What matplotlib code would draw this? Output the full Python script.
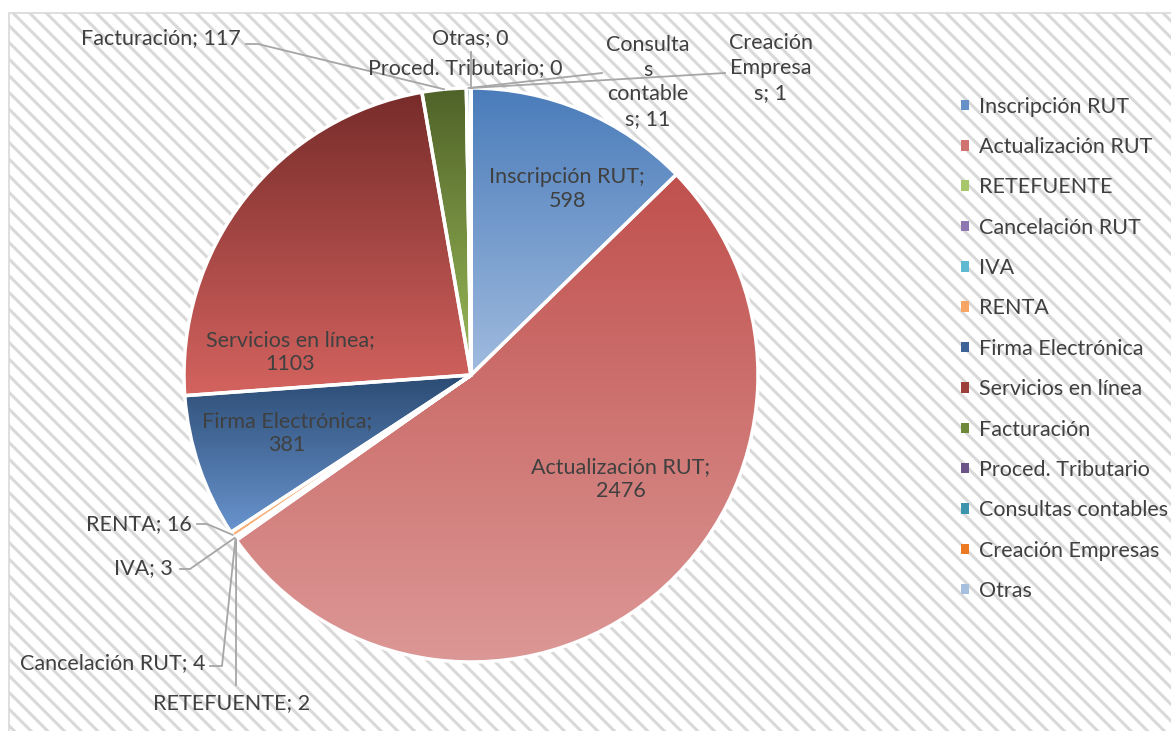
import numpy as np
import matplotlib
matplotlib.use('Agg')
from matplotlib import pyplot as plt
from matplotlib.colors import to_rgb
from matplotlib.patches import Patch, Rectangle

plt.rcParams['font.family'] = ['Lato', 'DejaVu Sans']
plt.rcParams['hatch.color'] = '#EFEFEF'
plt.rcParams['hatch.linewidth'] = 2.2

categories = ['Inscripción RUT', 'Actualización RUT', 'RETEFUENTE', 'Cancelación RUT',
              'IVA', 'RENTA', 'Firma Electrónica', 'Servicios en línea', 'Facturación',
              'Proced. Tributario', 'Consultas contables', 'Creación Empresas', 'Otras']
values = [598, 2476, 2, 4, 3, 16, 381, 1103, 117, 0, 11, 1, 0]
# gradient top colour, bottom colour
top_colors = ['#4A7CBA', '#C0504D', '#9BBB59', '#8064A2', '#4BACC6', '#F79646', '#2B4B73',
              '#772C2A', '#4F6228', '#5F497A', '#31859C', '#E46C0A', '#95B3D7']
bot_colors = ['#A0BBDF', '#DC9896', '#B5D07D', '#A08BBE', '#7CC6DA', '#FAB37E', '#6994CE',
              '#D4635F', '#9BBB59', '#8A72A8', '#5BAFC6', '#F59A4E', '#B8CCE6']
legend_colors = ['#6690C8', '#D07370', '#A8C66A', '#8E76B0', '#5EBAD0', '#F8A462', '#3E6396',
                 '#9E3E3B', '#6E8A38', '#6C5488', '#3A94AC', '#EC7A22', '#A6BFDF']

W, H = 1171, 731
TXT = '#404040'
LINE = '#A6A6A6'
FS = 15.5

fig = plt.figure(figsize=(W / 100, H / 100), dpi=100)
ax = fig.add_axes([0, 0, 1, 1])

# chart area with hatched background
ax.add_patch(Rectangle((8.5, -5), W, H - 12.5 + 5, facecolor='white', edgecolor='#D9D9D9',
                       lw=1.2, hatch='\\\\', zorder=0))

cx, cy, r = 471, H - 375, 287
wedges, _ = ax.pie(values, startangle=90, counterclock=False, center=(cx, cy), radius=r,
                   frame=True, wedgeprops=dict(facecolor='none', edgecolor='white', lw=2.5))
ax.set_aspect('equal')
ax.axis('off')

for w, c0, c1 in zip(wedges, top_colors, bot_colors):
    w.set_zorder(3)
    ext = w.get_path().get_extents()
    if ext.height < 1:
        continue
    t = np.linspace(0, 1, 256)[:, None]
    a, b = np.array(to_rgb(c0)), np.array(to_rgb(c1))
    grad = (a * (1 - t) + b * t)[:, None, :]
    im = ax.imshow(grad, extent=[ext.x0, ext.x1, ext.y0, ext.y1], origin='upper',
                   aspect='auto', zorder=2, interpolation='bilinear')
    im.set_clip_path(w)

ax.set_xlim(0, W)
ax.set_ylim(0, H)


def edge_pt(i):
    w = wedges[i]
    th = np.deg2rad((w.theta1 + w.theta2) / 2)
    return cx + r * np.cos(th), cy + r * np.sin(th)


# labels inside the slices
inside = [(0, 'Inscripción RUT;\n598', 567, 189),
          (1, 'Actualización RUT;\n2476', 621, 479),
          (7, 'Servicios en línea;\n1103', 290, 352),
          (6, 'Firma Electrónica;\n381', 287, 433)]
for i, s, x, y in inside:
    ax.text(x, H - y, s, ha='center', va='center', fontsize=FS, color=TXT,
            linespacing=1.3, zorder=5)

# labels outside with leader lines
outside = [(8, 'Facturación; 117', 241, 38, 'right', [(246, 44), (258, 44)]),
           (12, 'Otras; 0', 470, 38, 'center', [(471, 52)]),
           (9, 'Proced. Tributario; 0', 465, 68, 'center', []),
           (10, 'Consulta\ns\ncontable\ns; 11', 648, 82, 'center', [(602, 73)]),
           (11, 'Creación\nEmpresa\ns; 1', 771, 68, 'center', [(725, 73)]),
           (5, 'RENTA; 16', 192, 524, 'right', [(197, 524), (207, 524)]),
           (4, 'IVA; 3', 173, 568, 'right', [(180, 569), (190, 569)]),
           (3, 'Cancelación RUT; 4', 206, 663, 'right', [(210, 666), (222, 666)]),
           (2, 'RETEFUENTE; 2', 232, 703, 'center', [(236, 685)])]
for i, s, x, y, ha, pts in outside:
    ax.text(x, H - y, s, ha=ha, va='center', fontsize=FS, color=TXT,
            linespacing=1.3, zorder=5)
    if pts:
        ex, ey = edge_pt(i)
        xs = [p[0] for p in pts] + [ex]
        ys = [H - p[1] for p in pts] + [ey]
        ax.plot(xs, ys, color=LINE, lw=1.3, zorder=4)

handles = [Patch(facecolor=c, edgecolor='none') for c in legend_colors]
leg = fig.legend(handles, categories, loc='upper left', bbox_to_anchor=(950 / W, 1 - 86 / H),
                 frameon=False, fontsize=FS, handlelength=0.38, handleheight=0.38,
                 handletextpad=0.45, labelspacing=0.945, borderpad=0)
for t in leg.get_texts():
    t.set_color(TXT)

fig.savefig('out.png', dpi=100)
